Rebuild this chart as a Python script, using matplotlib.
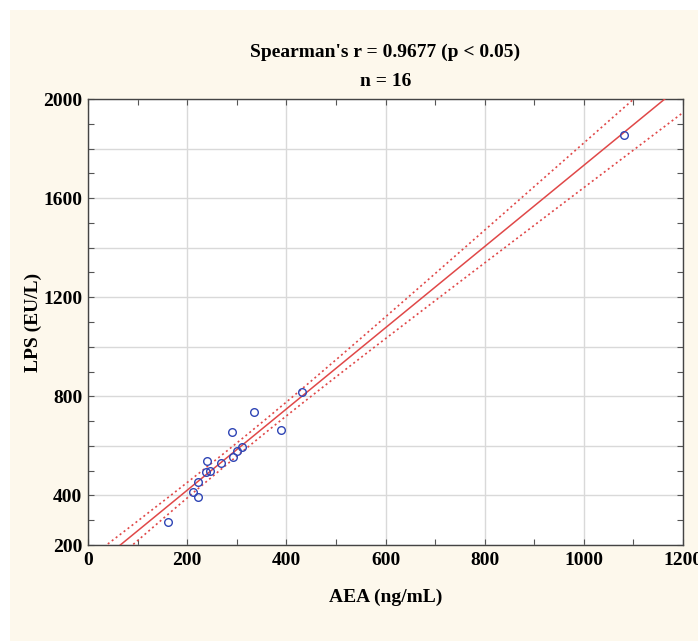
import numpy as np
import matplotlib
matplotlib.use("Agg")
import matplotlib.pyplot as plt
from matplotlib.patches import Rectangle
from matplotlib.ticker import MultipleLocator

# data
aea = [431, 335, 290, 390, 311, 301, 293, 239, 268, 246, 238, 222, 212, 221, 162, 1082]
lps = [818, 735, 657, 664, 597, 580, 555, 540, 532, 500, 493, 456, 414, 395, 293, 1853]

title_txt = "Spearman's r = 0.9677 (p < 0.05)"
n_txt = "n = 16"
x_label = "AEA (ng/mL)"
y_label = "LPS (EU/L)"
y_ticks = [200, 400, 600, 800, 1000, 1200, 1400, 1600, 1800, 2000]
y_ticklabels = ["200", "400", "", "800", "", "1200", "", "1600", "", "2000"]
x_ticks = [0, 200, 400, 600, 800, 1000, 1200]

plt.rcParams['font.family'] = ['Liberation Serif', 'DejaVu Serif']
plt.rcParams['font.weight'] = 'bold'

fig = plt.figure(figsize=(6.98, 6.41), dpi=100)
fig.patch.set_facecolor("white")
# cream panel behind everything, white strip on left and top
fig.patches.append(Rectangle((10 / 698, 0), 1.0, 1 - 10 / 641, transform=fig.transFigure,
                             facecolor="#fdf8ec", edgecolor="none", zorder=-5))

ax = fig.add_axes([88 / 698, 1 - 545 / 641, (683 - 88) / 698, (545 - 99) / 641])
ax.set_zorder(1)
ax.set_facecolor("white")

# linear fit and 95% confidence band of the mean
x = np.array(aea, dtype=float)
y = np.array(lps, dtype=float)
n = len(x)
b, a = np.polyfit(x, y, 1)
resid = y - (a + b * x)
s = np.sqrt(np.sum(resid ** 2) / (n - 2))
sxx = np.sum((x - x.mean()) ** 2)
t_val = 2.145  # t(0.975, df=14)
xx = np.linspace(0, 1200, 200)
yy = a + b * xx
half = t_val * s * np.sqrt(1.0 / n + (xx - x.mean()) ** 2 / sxx)

red = "#e04848"
ax.plot(xx, yy, color=red, lw=1.1, zorder=3)
ax.plot(xx, yy + half, color=red, lw=1.2, ls=(0, (1.2, 1.8)), zorder=3)
ax.plot(xx, yy - half, color=red, lw=1.2, ls=(0, (1.2, 1.8)), zorder=3)

ax.plot(x, y, ls="none", marker="o", ms=5.5, mfc="none", mec="#2f45b5", mew=1.0, zorder=4)

ax.set_xlim(0, 1200)
ax.set_ylim(200, 2000)
ax.set_xticks(x_ticks)
ax.set_yticks(y_ticks)
ax.set_yticklabels(y_ticklabels)
ax.xaxis.set_minor_locator(MultipleLocator(100))
ax.yaxis.set_minor_locator(MultipleLocator(100))
ax.grid(True, which="major", color="#d9d9d9", lw=1.0, zorder=0)
ax.set_axisbelow(True)
ax.tick_params(which="both", direction="in", top=True, right=True, length=4,
               width=0.8, color="#555555", labelsize=14, pad=5)
ax.tick_params(axis="y", pad=4)
for sp in ax.spines.values():
    sp.set_color("#444444")
    sp.set_linewidth(1.0)

fig.text(385.5 / 698, 1 - 52 / 641, title_txt, ha="center", va="center", fontsize=14, fontweight="bold")
fig.text(385.5 / 698, 1 - 81 / 641, n_txt, ha="center", va="center", fontsize=14, fontweight="bold")
fig.text(385.5 / 698, 1 - 597 / 641, x_label, ha="center", va="center", fontsize=14, fontweight="bold")
fig.text(33 / 698, 1 - 322 / 641, y_label, ha="center", va="center", rotation=90, fontsize=14,
         fontweight="bold")

fig.savefig("out.png", dpi=100, facecolor=fig.get_facecolor())
